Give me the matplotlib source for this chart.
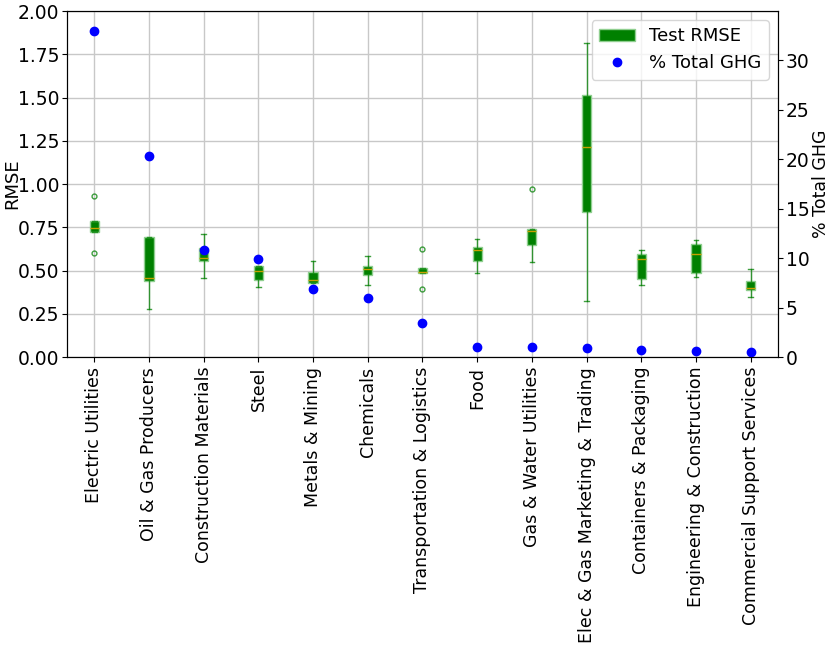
import matplotlib
matplotlib.use("Agg")
import matplotlib.pyplot as plt
from matplotlib.patches import Patch
from matplotlib.lines import Line2D

OUTFILE = "out.png"

sectors = ["Electric Utilities", "Oil & Gas Producers", "Construction Materials",
           "Steel", "Metals & Mining", "Chemicals", "Transportation & Logistics",
           "Food", "Gas & Water Utilities", "Elec & Gas Marketing & Trading",
           "Containers & Packaging", "Engineering & Construction",
           "Commercial Support Services"]

# box stats of the test RMSE
whis_lo = [0.725, 0.277, 0.455, 0.406, 0.426, 0.414, 0.487, 0.484, 0.547, 0.324, 0.418, 0.460, 0.347]
q1 = [0.725, 0.441, 0.555, 0.447, 0.426, 0.474, 0.487, 0.557, 0.647, 0.838, 0.453, 0.487, 0.387]
med = [0.746, 0.455, 0.572, 0.495, 0.443, 0.507, 0.493, 0.616, 0.728, 1.214, 0.566, 0.593, 0.399]
q3 = [0.788, 0.692, 0.628, 0.524, 0.491, 0.526, 0.513, 0.636, 0.742, 1.513, 0.595, 0.653, 0.439]
whis_hi = [0.788, 0.695, 0.713, 0.524, 0.553, 0.586, 0.513, 0.684, 0.742, 1.813, 0.618, 0.674, 0.509]
fliers = [[0.93, 0.60], [], [], [], [], [], [0.624, 0.395], [], [0.971], [], [], [], []]

ghg_pct = [33.0, 20.3, 10.8, 9.9, 6.9, 6.0, 3.4, 1.0, 1.0, 0.9, 0.74, 0.61, 0.54]


def build_stats():
    stats = []
    for i in range(len(sectors)):
        stats.append({"whislo": whis_lo[i], "q1": q1[i], "med": med[i],
                      "q3": q3[i], "whishi": whis_hi[i], "fliers": fliers[i]})
    return stats


def plot_rmse_ghg(output_file):
    plt.rcParams["font.family"] = "DejaVu Sans"
    fig = plt.figure(figsize=(8.3, 6.48), dpi=100)
    ax = fig.add_axes([0.0807, 0.449, 0.8566, 0.534])
    positions = list(range(1, len(sectors) + 1))

    ax.bxp(build_stats(), positions=positions, widths=0.17, patch_artist=True,
           boxprops=dict(facecolor="green", edgecolor="#8fcf8f", linewidth=1),
           whiskerprops=dict(color="green", alpha=0.75, linewidth=1),
           capprops=dict(color="green", alpha=0.75, linewidth=1),
           medianprops=dict(color="#c8a000", linewidth=1),
           flierprops=dict(marker="o", markersize=3.5, markerfacecolor="none",
                           markeredgecolor="green", alpha=0.75))
    ax.set_xlim(0.5, len(sectors) + 0.5)
    ax.set_ylim(0, 2.0)
    ax.set_xticks(positions)
    ax.set_xticklabels(sectors, rotation=90, fontsize=12.5)
    ax.tick_params(axis="y", labelsize=13.5, pad=2)
    ax.set_ylabel("RMSE", fontsize=13)
    ax.yaxis.set_label_coords(-0.064, 0.5)
    ax.grid(True, color="#c8c8c8", linewidth=1)
    ax.set_axisbelow(True)

    ax2 = ax.twinx()
    ax2.plot(positions, ghg_pct, "o", color="blue", markersize=6)
    ax2.set_ylim(0, 35)
    ax2.set_yticks([0, 5, 10, 15, 20, 25, 30])
    ax2.tick_params(axis="y", labelsize=13.5, pad=2)
    ax2.set_ylabel("% Total GHG", fontsize=12.5)
    ax2.yaxis.set_label_coords(1.048, 0.5)

    handles = [Patch(facecolor="green", edgecolor="#8fcf8f", label="Test RMSE"),
               Line2D([], [], marker="o", color="blue", linestyle="none",
                      markersize=6, label="% Total GHG")]
    ax2.legend(handles=handles, loc="upper right", fontsize=13,
               handlelength=2.0)

    fig.savefig(output_file, dpi=100)
    plt.close(fig)


if __name__ == "__main__":
    plot_rmse_ghg(OUTFILE)
